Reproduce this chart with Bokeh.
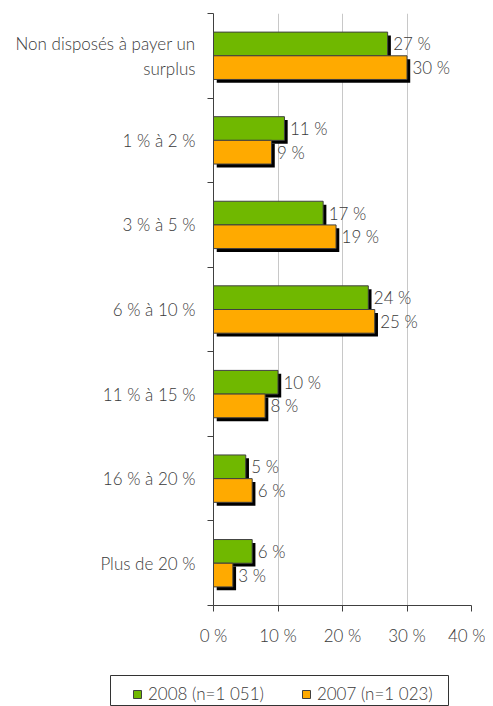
from bokeh.plotting import figure
from bokeh.models import ColumnDataSource, FixedTicker, Legend, LegendItem, Range1d
from bokeh.core.properties import value
from bokeh.transform import dodge
from bokeh.embed import file_html
from bokeh.resources import INLINE

categories = ["Non disposés à payer un\nsurplus", "1 % à 2 %", "3 % à 5 %", "6 % à 10 %",
              "11 % à 15 %", "16 % à 20 %", "Plus de 20 %"]
values_2008 = [27, 11, 17, 24, 10, 5, 6]
values_2007 = [30, 9, 19, 25, 8, 6, 3]
series_names = ["2008 (n=1 051)", "2007 (n=1 023)"]
x_ticks = [0, 10, 20, 30, 40]

FONT = "Lato Light"
FS = "17px"
TXT = "#3a3a3a"
GREEN = "#70B800"
ORANGE = "#FFAA00"
colors = [GREEN, ORANGE]

n = len(categories)
centers = [n - k - 0.5 for k in range(n)]
h = 0.28
y08 = [c + h / 2 for c in centers]
y07 = [c - h / 2 for c in centers]

p = figure(width=485, height=667, output_backend="svg", toolbar_location=None,
           x_range=Range1d(0, 40), y_range=Range1d(0, n),
           min_border_left=213, min_border_right=14, min_border_top=13, min_border_bottom=62)
p.outline_line_color = None

s08 = ColumnDataSource(dict(y=y08, v=values_2008, lab=[f"{v} %" for v in values_2008]))
s07 = ColumnDataSource(dict(y=y07, v=values_2007, lab=[f"{v} %" for v in values_2007]))

dx = 0.5
dy = 0.04
for src in (s08, s07):
    p.hbar(y=dodge("y", -dy), left=dx, right=dodge("v", dx), height=h, source=src,
           fill_color="black", line_color=None)

p.hbar(y="y", left=0, right="v", height=h, source=s08,
       fill_color=GREEN, line_color="#404040", line_width=1)
p.hbar(y="y", left=0, right="v", height=h, source=s07,
       fill_color=ORANGE, line_color="#404040", line_width=1)

for src in (s08, s07):
    p.text(x=dodge("v", 0.85), y="y", text="lab", source=src, text_font=value(FONT),
           text_font_size=FS, text_color=TXT, text_baseline="middle", text_align="left")

p.xaxis.ticker = FixedTicker(ticks=x_ticks)
p.xaxis.major_label_overrides = {t: f"{t} %" for t in x_ticks}
p.xaxis.major_label_text_font = FONT
p.xaxis.major_label_text_font_size = FS
p.xaxis.major_label_text_color = TXT
p.xaxis.axis_line_color = "#404040"
p.xaxis.major_tick_line_color = "#404040"
p.xaxis.major_tick_in = 0
p.xaxis.major_tick_out = 6
p.xaxis.minor_tick_line_color = None
p.xaxis.major_label_standoff = 13

boundaries = list(range(n + 1))
p.yaxis.ticker = FixedTicker(ticks=centers, minor_ticks=boundaries)
p.yaxis.major_label_overrides = {c: categories[k] for k, c in enumerate(centers)}
p.yaxis.major_label_text_font = FONT
p.yaxis.major_label_text_font_size = FS
p.yaxis.major_label_text_color = TXT
p.yaxis.major_label_text_align = "center"
p.yaxis.axis_line_color = "#404040"
p.yaxis.major_tick_line_color = None
p.yaxis.minor_tick_line_color = "#404040"
p.yaxis.minor_tick_in = 0
p.yaxis.minor_tick_out = 6
p.yaxis.major_label_standoff = 12

p.xgrid.ticker = FixedTicker(ticks=x_ticks)
p.xgrid.grid_line_color = "#C8C8C8"
p.ygrid.grid_line_color = None

# legend strip (separate root, so its frame is not aligned with the chart)
q = figure(width=485, height=39, output_backend="svg", toolbar_location=None,
           x_range=Range1d(0, 1), y_range=Range1d(0, 1),
           min_border_left=110, min_border_right=37, min_border_top=8, min_border_bottom=0)
q.axis.visible = False
q.grid.visible = False
q.outline_line_color = "#333333"
items = []
for name, col in zip(series_names, colors):
    r = q.hbar(y=[-5], left=[0], right=[1], height=0.5, fill_color=col, line_color="#404040")
    items.append(LegendItem(label=name, renderers=[r]))
legend = Legend(items=items, orientation="horizontal", location=(22, 2),
                label_text_font=FONT, label_text_font_size=FS, label_text_color=TXT,
                glyph_width=10, glyph_height=10, spacing=37, padding=0,
                label_standoff=6, border_line_color=None, margin=0,
                background_fill_alpha=0)
q.add_layout(legend)

open("out.html", "w").write(file_html([p, q], INLINE))
